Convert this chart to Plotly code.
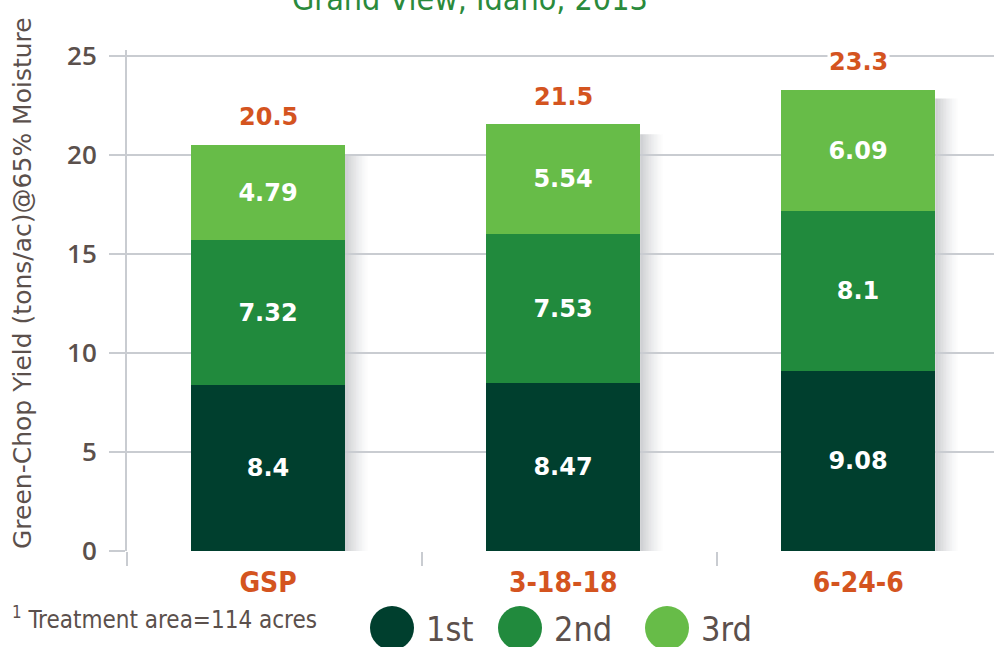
import plotly.graph_objects as go

categories = ["GSP", "3-18-18", "6-24-6"]
series_names = ["1st", "2nd", "3rd"]
cut1 = [8.4, 8.47, 9.08]
cut2 = [7.32, 7.53, 8.1]
cut3 = [4.79, 5.54, 6.09]
totals = [20.5, 21.5, 23.3]
y_ticks = [0, 5, 10, 15, 20, 25]

colors = ["#003f2e", "#218a3d", "#67bc48"]
orange = "#d4541f"
gray_text = "#5b504c"
grid = "#c9ccd1"
cond = "DejaVu Sans Condensed, Roboto"

x = list(range(len(categories)))
bar_w = 0.522
fig = go.Figure()
for name, vals, col in zip(series_names, [cut1, cut2, cut3], colors):
    fig.add_trace(go.Bar(
        x=x, y=vals, name=name, marker=dict(color=col, line=dict(width=0)),
        width=bar_w, text=[f"{v:g}" for v in vals], textposition="inside",
        insidetextanchor="middle",
        textfont=dict(family="DejaVu Sans", size=24, color="white", weight="bold"),
        showlegend=False, hoverinfo="skip"))

shapes = []
# soft drop shadow to the right of each bar
n = 16
for i, t in enumerate(totals):
    for k in range(n):
        x0 = i + bar_w / 2 + k * 0.0052
        shapes.append(dict(type="rect", xref="x", yref="y", x0=x0, x1=x0 + 0.0052,
                           y0=0, y1=t - 0.45, line=dict(width=0),
                           fillcolor="rgba(85,90,100,%.3f)" % (0.30 * (1 - k / n) ** 1.5),
                           layer="below"))

annotations = []
for i, t in enumerate(totals):
    annotations.append(dict(x=i, y=t, xref="x", yref="y", text=f"<b>{t:g}</b>",
                            showarrow=False, yshift=28, bgcolor="white",
                            font=dict(family="DejaVu Sans", size=24, color=orange)))

W, H = 994, 647
ml, mr, mt, mb = 127, 0, 50, 96
pw, ph = W - ml - mr, H - mt - mb
def px(xp):
    return (xp - ml) / pw
def py(yp):
    return (H - mb - yp) / ph

annotations.append(dict(x=px(470), xref="paper", y=py(20), yref="paper", yanchor="bottom", xanchor="center",
                        text="Grand View, Idaho, 2013", showarrow=False,
                        font=dict(family=cond, size=32, color="#2a8a3c")))
annotations.append(dict(x=px(10), y=py(618), xref="paper", yref="paper", xanchor="left", yanchor="middle",
                        text="<sup>1</sup> Treatment area=114 acres", showarrow=False,
                        font=dict(family=cond, size=24, color=gray_text)))
# y-axis title
annotations.append(dict(x=px(22), y=py(283), xref="paper", yref="paper", xanchor="center", yanchor="middle",
                        text="Green-Chop Yield (tons/ac)@65% Moisture", showarrow=False, textangle=-90,
                        font=dict(family="DejaVu Sans", size=25, color=gray_text)))

# manual legend
leg_cx = [392, 520, 667]
leg_tx = [424, 552, 699]
for name, col, cx, tx in zip(series_names, colors, leg_cx, leg_tx):
    shapes.append(dict(type="circle", xref="paper", yref="paper",
                       x0=px(cx - 22), x1=px(cx + 22), y0=py(650), y1=py(606),
                       fillcolor=col, line=dict(width=0)))
    annotations.append(dict(x=px(tx), y=py(629), xref="paper", yref="paper", xanchor="left", yanchor="middle",
                            text=name, showarrow=False,
                            font=dict(family=cond, size=34, color=gray_text)))

fig.update_layout(
    barmode="stack", width=W, height=H, bargap=0,
    margin=dict(l=ml, r=mr, t=mt, b=mb, pad=0),
    plot_bgcolor="white", paper_bgcolor="white",
    shapes=shapes, annotations=annotations,
    xaxis=dict(range=[-0.478, 2.46], tickvals=x, ticktext=[f"<b>{c}</b>" for c in categories],
               ticks="", showgrid=False, zeroline=False, showline=False,
               tickfont=dict(family=cond, size=28, color=orange),
               ticklabelstandoff=12,
               minor=dict(tick0=-0.478, dtick=1, ticks="outside", ticklen=14, tickcolor=grid, tickwidth=2, showgrid=False)),
    yaxis=dict(range=[0, 25.3], tickvals=y_ticks, ticks="outside", ticklen=16, tickcolor=grid, tickwidth=2,
               showgrid=True, gridcolor=grid, gridwidth=2, zeroline=False,
               showline=True, linecolor=grid, linewidth=2, ticklabelstandoff=7,
               tickfont=dict(family="Open Sans", size=26, color=gray_text, weight=600)),
)
fig.write_html("out.html")
